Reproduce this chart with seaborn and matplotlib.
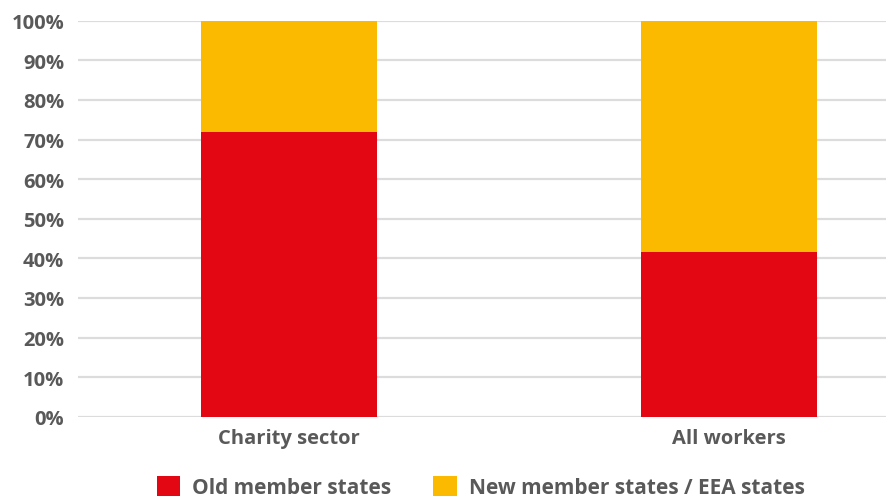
import matplotlib
matplotlib.use("Agg")
import matplotlib.pyplot as plt
from matplotlib.patches import Patch
from matplotlib.ticker import PercentFormatter
import seaborn as sns
import pandas as pd

categories = ["Charity sector", "All workers"]
old_member = [71.9, 41.7]
new_member_eea = [28.1, 58.3]
series_names = ["Old member states", "New member states / EEA states"]
y_ticks = [0, 10, 20, 30, 40, 50, 60, 70, 80, 90, 100]

RED = "#E30613"
ORANGE = "#FBB900"
TEXT = "#595959"

sns.set_theme(style="white")
plt.rcParams["font.family"] = ["Open Sans", "DejaVu Sans"]

df = pd.DataFrame({
    "category": categories,
    "old": old_member,
    "total": [o + n for o, n in zip(old_member, new_member_eea)],
})

fig = plt.figure(figsize=(8.87, 5.02), dpi=100)
ax = fig.add_axes([78 / 887, 84.3 / 502, 1 - 78 / 887, (480.3 - 84.3) / 502])

# stacked bars: full height in orange, old member share drawn over it in red
sns.barplot(data=df, x="category", y="total", color=ORANGE, width=0.4,
            saturation=1, ax=ax, zorder=2, linewidth=0)
sns.barplot(data=df, x="category", y="old", color=RED, width=0.4,
            saturation=1, ax=ax, zorder=3, linewidth=0)

ax.set_xlim(-0.48, 1.36)
ax.set_ylim(0, 100)
ax.set_yticks(y_ticks)
ax.yaxis.set_major_formatter(PercentFormatter(decimals=0))
ax.grid(axis="y", color="#dcdcdc", linewidth=1.6, zorder=0)
ax.set_axisbelow(True)
for s in ax.spines.values():
    s.set_visible(False)
ax.set_xlabel("")
ax.set_ylabel("")
ax.tick_params(axis="both", length=0, labelsize=14.5, labelcolor=TEXT)
ax.tick_params(axis="y", pad=10)
ax.tick_params(axis="x", pad=8)
for lab in ax.get_xticklabels() + ax.get_yticklabels():
    lab.set_fontweight("bold")

handles = [Patch(facecolor=RED, edgecolor="none", label=series_names[0]),
           Patch(facecolor=ORANGE, edgecolor="none", label=series_names[1])]
leg = fig.legend(handles=handles, loc="center", bbox_to_anchor=(0.542, 0.028),
                 ncol=2, frameon=False, handlelength=1.12, handleheight=1.12,
                 handletextpad=0.6, columnspacing=2.0,
                 prop={"size": 15, "weight": "bold"})
for t in leg.get_texts():
    t.set_color(TEXT)

fig.savefig("out.png", dpi=100)
